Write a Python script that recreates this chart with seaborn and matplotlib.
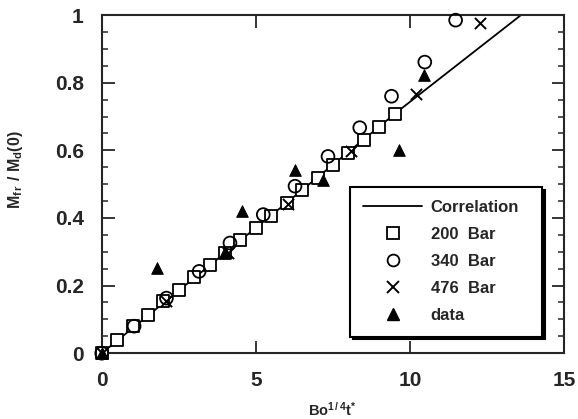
import matplotlib
matplotlib.use("Agg")
import matplotlib.pyplot as plt
from matplotlib.lines import Line2D
from matplotlib.ticker import MultipleLocator
import seaborn as sns

# Correlation line
corr_x = [0.0, 6.0, 9.6, 13.6]
corr_y = [0.0, 0.445, 0.715, 1.0]

# 200 Bar (squares)
bar200_x = [0.0, 0.5, 1.0, 1.5, 2.0, 2.5, 3.0, 3.5, 4.0, 4.5, 5.0, 5.5, 6.0, 6.5, 7.0, 7.5, 8.0, 8.5, 9.0, 9.5]
bar200_y = [0.0, 0.04, 0.081, 0.113, 0.155, 0.188, 0.225, 0.26, 0.296, 0.334, 0.37, 0.407, 0.445, 0.484, 0.518, 0.558, 0.593, 0.63, 0.67, 0.706]

# 340 Bar (circles)
bar340_x = [0.0, 1.05, 2.1, 3.16, 4.16, 5.24, 6.27, 7.34, 8.37, 9.4, 10.48, 11.48]
bar340_y = [0.0, 0.08, 0.163, 0.242, 0.326, 0.41, 0.494, 0.582, 0.667, 0.76, 0.861, 0.985]

# 476 Bar (crosses)
bar476_x = [0.0, 2.1, 4.1, 6.05, 8.1, 10.2, 12.26]
bar476_y = [0.0, 0.155, 0.296, 0.44, 0.598, 0.768, 0.976]

# data (filled triangles)
data_x = [0.0, 1.8, 4.0, 4.54, 6.27, 7.18, 9.63, 10.45]
data_y = [0.0, 0.252, 0.30, 0.42, 0.543, 0.513, 0.60, 0.822]

x_ticks = [0, 5, 10, 15]
x_ticklabels = ['0', '5', '10', '15']
y_ticks = [0, 0.2, 0.4, 0.6, 0.8, 1.0]
y_ticklabels = ['0', '0.2', '0.4', '0.6', '0.8', '1']
legend_labels = ['Correlation', '200  Bar', '340  Bar', '476  Bar', 'data']

sns.set_style("ticks")
plt.rcParams['font.family'] = ['Liberation Sans', 'DejaVu Sans']
plt.rcParams['mathtext.fontset'] = 'custom'
plt.rcParams['mathtext.rm'] = 'Liberation Sans:bold'
plt.rcParams['mathtext.it'] = 'Liberation Sans:bold'
plt.rcParams['mathtext.bf'] = 'Liberation Sans:bold'

fig = plt.figure(figsize=(5.78, 4.19), dpi=100)
ax = fig.add_axes([0.176, 0.157, 0.8, 0.807])

sns.lineplot(x=corr_x, y=corr_y, ax=ax, color='black', lw=1.3, sort=False)
kw = dict(clip_on=False)
sns.scatterplot(x=bar200_x, y=bar200_y, ax=ax, marker='s', s=70,
                facecolor='white', edgecolor='black', linewidth=1.3, zorder=3, **kw)
sns.scatterplot(x=bar340_x, y=bar340_y, ax=ax, marker='o', s=85,
                facecolor='none', edgecolor='black', linewidth=1.3, zorder=4, **kw)
sns.scatterplot(x=bar476_x, y=bar476_y, ax=ax, marker='x', s=65,
                color='black', linewidth=1.4, zorder=5, **kw)
sns.scatterplot(x=data_x, y=data_y, ax=ax, marker='^', s=70,
                color='black', edgecolor='black', zorder=6, **kw)

ax.set_xlim(0, 15)
ax.set_ylim(0, 1)
ax.yaxis.set_minor_locator(MultipleLocator(0.05))
ax.set_yticks(y_ticks)
ax.set_yticklabels(y_ticklabels)
ax.set_xticks(x_ticks)
ax.set_xticklabels(x_ticklabels)
ax.tick_params(axis='both', which='major', direction='in', length=9, width=1.3,
               labelsize=15, top=True, right=True, pad=13)
ax.tick_params(axis='y', which='minor', direction='in', length=4, width=1.1,
               left=True, right=True)
for lab in ax.get_xticklabels() + ax.get_yticklabels():
    lab.set_fontweight('bold')
for sp in ax.spines.values():
    sp.set_linewidth(1.5)
    sp.set_visible(True)

ax.set_xlabel(r'Bo$^{1\,/\,4}$t$^{*}$', fontsize=10.5, fontweight='bold')
ax.xaxis.set_label_coords(0.498, -0.14)
ax.set_ylabel(r'M$_{f\,r}$ / M$_d$(0)', fontsize=11.5, fontweight='bold')
ax.yaxis.set_label_coords(-0.166, 0.542)

handles = [
    Line2D([], [], color='black', lw=1.3),
    Line2D([], [], marker='s', ls='none', mfc='white', mec='black', ms=8, mew=1.3),
    Line2D([], [], marker='o', ls='none', mfc='white', mec='black', ms=8.5, mew=1.3),
    Line2D([], [], marker='x', ls='none', color='black', ms=8, mew=1.4),
    Line2D([], [], marker='^', ls='none', color='black', ms=8),
]
leg = ax.legend(handles, legend_labels, loc='lower left',
                bbox_to_anchor=(0.537, 0.049, 0.415, 0.439), borderaxespad=0,
                mode='expand', frameon=True, fancybox=False,
                shadow={'color': 'black', 'alpha': 1},
                edgecolor='black', framealpha=1, prop={'weight': 'bold', 'size': 12},
                handlelength=3.5, labelspacing=0.72, borderpad=0.8, handletextpad=0.55)
leg.get_frame().set_linewidth(1.5)

fig.savefig('out.png', dpi=100)
